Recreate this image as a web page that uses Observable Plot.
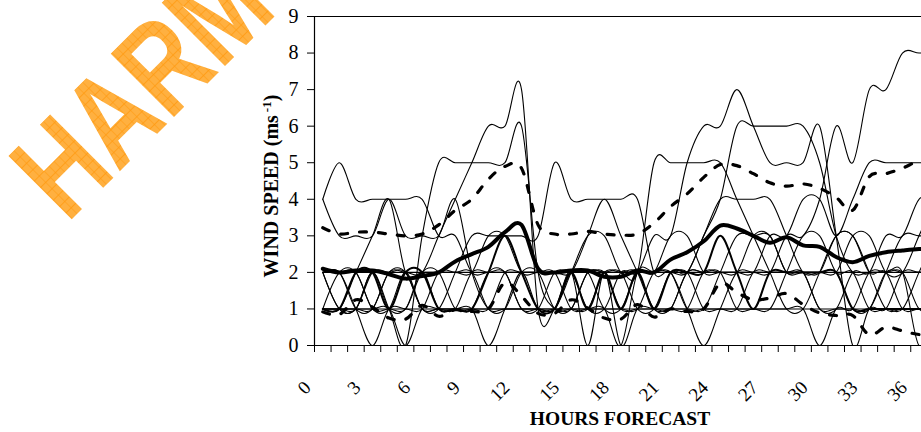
<!DOCTYPE html>
<html>
<head>
<meta charset="utf-8">
<script src="https://cdn.jsdelivr.net/npm/d3@7"></script>
<script src="https://cdn.jsdelivr.net/npm/@observablehq/plot@0.6"></script>
<style>
  html, body { margin: 0; padding: 0; background: #ffffff; overflow: hidden; }
</style>
</head>
<body>
<div id="chart"></div>
<script>
// ---- data ----
const hours = [0,1,2,3,4,5,6,7,8,9,10,11,12,13,14,15,16,17,18,19,20,21,22,23,24,25,26,27,28,29,30,31,32,33,34,35,36,37];
const xTickLabels = [0,3,6,9,12,15,18,21,24,27,30,33,36];
const yTicks = [0,1,2,3,4,5,6,7,8,9];

// ensemble members (thin lines)
const flatTwo  = [2,2,2,2,2,2,2,2,2,2, 2,2,2,2,2,2,2,2,2,2, 2,2,2,2,2,2,2,2,2,2, 2,2,2,2,2,2,2,2];
const flatOne  = [1,1,1,1,1,1,1,1,1,1, 1,1,1,1,1,1,1,1,1,1, 1,1,1,1,1,1,1,1,1,1, 1,1,1,1,1,1,1,1];
const memberA  = [4,5,4,4,4,4,4,3,3,2, 2,2,1,1,2,2,2,1,1,2, 2,3,3,2,2,2,3,3,2,2, 1,1,1,1,2,2,2,2];
const memberB  = [4,3,3,3,4,3,3,3,4,2, 1,1,2,2,1,1,1,2,2,2, 1,1,2,2,2,1,1,1,2,3, 3,2,2,1,1,1,2,3];
const memberC  = [1,1,1,2,1,0,3,5,5,5, 5,5,6,2,1,1,2,2,2,1, 1,2,2,3,4,4,4,4,3,2, 2,2,3,3,2,2,3,4];
const memberD  = [2,2,1,1,2,2,2,3,4,5, 6,6,7,1,1,2,3,3,2,2, 2,2,1,0,1,2,2,2,2,2, 1,1,2,2,3,3,4,4];
const memberE  = [2,2,2,1,1,2,1,1,2,3, 3,3,3,3,5,4,4,4,4,4, 2,2,1,1,1,1,2,2,2,2, 2,2,1,1,2,3,3,3];
const memberF  = [1,1,2,3,4,2,2,2,2,2, 3,3,2,2,2,2,3,4,3,2, 1,1,1,1,2,3,3,3,2,2, 2,3,3,2,1,1,1,1];
const memberG  = [1,2,2,1,1,1,2,2,1,1, 1,1,1,1,1,1,2,2,2,2, 5,5,5,5,5,4,3,2,1,1, 2,3,3,2,2,1,1,1];
const memberH  = [2,1,1,2,2,2,1,1,1,1, 1,2,2,2,2,2,1,1,2,2, 3,3,5,6,6,7,6,5,5,5, 6,3,0,1,1,2,2,2];
const memberI  = [1,1,1,1,2,2,1,1,1,2, 2,2,2,2,2,1,1,1,1,1, 2,2,2,3,4,6,6,6,6,6, 5,3,2,2,2,2,1,1];
const memberJ  = [2,2,1,0,1,1,1,2,2,2, 1,1,1,1,1,2,2,2,1,1, 1,1,1,2,2,2,2,2,3,3, 4,6,5,7,7,8,8,8];
const memberK  = [1,1,1,1,1,0,1,1,1,1, 2,2,1,1,1,2,0,2,0,1, 1,1,2,2,2,2,2,3,3,4, 4,3,4,5,5,5,5,5];
const memberL  = [2,1,1,2,1,1,2,1,1,1, 0,1,2,1,1,1,1,1,0,2, 2,2,2,1,1,1,1,1,1,1, 0,1,1,2,2,2,0,1];

// medium line
const obsWind  = [1,1,2,2,1,2,2,1,1,1, 2,3,2,1,1,2,1,2,1,2, 1,2,2,2,3,2,1,2,2,2, 2,2,1,1,1,1,1,1];

// ensemble mean and +/- spread
const meanWind  = [2.1,2.0,2.05,2.05,1.95,1.83,1.9,2.0,2.3,2.5, 2.7,3.1,3.3,2.1,2.0,2.05,2.05,1.88,1.88,2.05, 2.0,2.35,2.55,2.85,3.28,3.2,3.0,2.81,2.96,2.74, 2.7,2.42,2.28,2.45,2.55,2.6,2.64,2.65];
const upperWind = [3.22,3.05,3.1,3.1,3.05,3.0,3.05,3.3,3.7,4.0, 4.55,4.9,4.85,3.3,3.05,3.05,3.12,3.05,3.02,3.05, 3.35,3.8,4.15,4.6,4.95,4.92,4.7,4.45,4.36,4.42, 4.3,4.05,3.7,4.62,4.7,4.85,5.05,5.1];
const lowerWind = [0.92,0.85,1.25,1.05,0.75,0.72,1.1,0.8,0.98,0.93, 1.0,1.72,1.35,0.88,0.88,1.25,1.02,0.75,0.72,1.12, 0.78,1.0,0.93,1.0,1.7,1.45,1.25,1.3,1.42,1.12, 0.89,0.82,0.82,0.29,0.5,0.4,0.3,0.3];

const members = {flatTwo, flatOne, memberA, memberB, memberC, memberD, memberE, memberF,
                 memberG, memberH, memberI, memberJ, memberK, memberL};

function toRows(name, values) {
  return values.map((v, i) => ({h: hours[i], v, s: name}));
}
const memberRows = Object.entries(members).flatMap(([n, vals]) => toRows(n, vals));
const obsRows = toRows("obs", obsWind);
const meanRows = toRows("mean", meanWind);
const bandRows = [...toRows("upper", upperWind), ...toRows("lower", lowerWind)];

const serif = "'Liberation Serif', 'Times New Roman', serif";

const chart = Plot.plot({
  width: 921,
  height: 432,
  marginLeft: 314,
  marginRight: 0,
  marginTop: 16,
  marginBottom: 87,
  style: {fontFamily: serif, fontSize: "19px", color: "black", background: "white", overflow: "visible"},
  x: {domain: [-0.5, 36.15]},
  y: {domain: [0, 9]},
  marks: [
    Plot.line(memberRows, {x: "h", y: "v", z: "s", curve: "cardinal", stroke: "black", strokeWidth: 1.1, clip: true}),
    Plot.line(obsRows, {x: "h", y: "v", curve: "cardinal", stroke: "black", strokeWidth: 2, clip: true}),
    Plot.line(bandRows, {x: "h", y: "v", z: "s", curve: "cardinal", stroke: "black", strokeWidth: 3.2, strokeDasharray: "7,12", clip: true}),
    Plot.line(meanRows, {x: "h", y: "v", curve: "cardinal", stroke: "black", strokeWidth: 4, clip: true}),
    Plot.ruleY([0, 9], {stroke: "black", strokeWidth: 1.2}),
    Plot.ruleX([-0.5], {y1: 0, y2: 9, stroke: "black", strokeWidth: 1.2}),
    Plot.axisY({ticks: yTicks, tickSize: 7, tickPadding: 9, fontSize: 20, label: null, stroke: "black"}),
    Plot.axisX({ticks: d3.range(-0.5, 36, 1), tickSize: 7, tickFormat: () => "", label: null, stroke: "black"}),
    Plot.axisX({ticks: xTickLabels, tickSize: 0, tickPadding: 39, tickRotate: -45, dx: -15, fontSize: 19, label: null})
  ]
});

const svg = d3.select(chart);

// axis titles
svg.append("text")
  .attr("x", 620).attr("y", 425)
  .attr("text-anchor", "middle")
  .attr("font-family", serif).attr("font-weight", "bold").attr("font-size", 19.5)
  .attr("fill", "black")
  .text("HOURS FORECAST");

const yt = svg.append("text")
  .attr("transform", "translate(278,186) rotate(-90)")
  .attr("text-anchor", "middle")
  .attr("font-family", serif).attr("font-weight", "bold").attr("font-size", 20)
  .attr("fill", "black");
yt.append("tspan").text("WIND SPEED (ms");
yt.append("tspan").attr("dx", 3).attr("baseline-shift", "super").attr("font-size", 13).text("-1");
yt.append("tspan").text(")");

// watermark
const defs = svg.append("defs");
const pat = defs.append("pattern").attr("id", "hatch").attr("patternUnits", "userSpaceOnUse")
  .attr("width", 9).attr("height", 9);
pat.append("rect").attr("width", 9).attr("height", 9).attr("fill", "#FFB040");
pat.append("path").attr("d", "M0,0H9M0,0V9").attr("stroke", "#FF9A10").attr("stroke-width", 1.4);

svg.append("text")
  .attr("transform", "translate(67,224) rotate(-45) scale(0.77,1)")
  .attr("text-anchor", "start")
  .attr("font-family", "'Liberation Sans', Arial, sans-serif")
  .attr("font-weight", "bold").attr("font-size", 130)
  .attr("fill", "url(#hatch)")
  .text("HARM");

document.getElementById("chart").appendChild(chart);
</script>
</body>
</html>
